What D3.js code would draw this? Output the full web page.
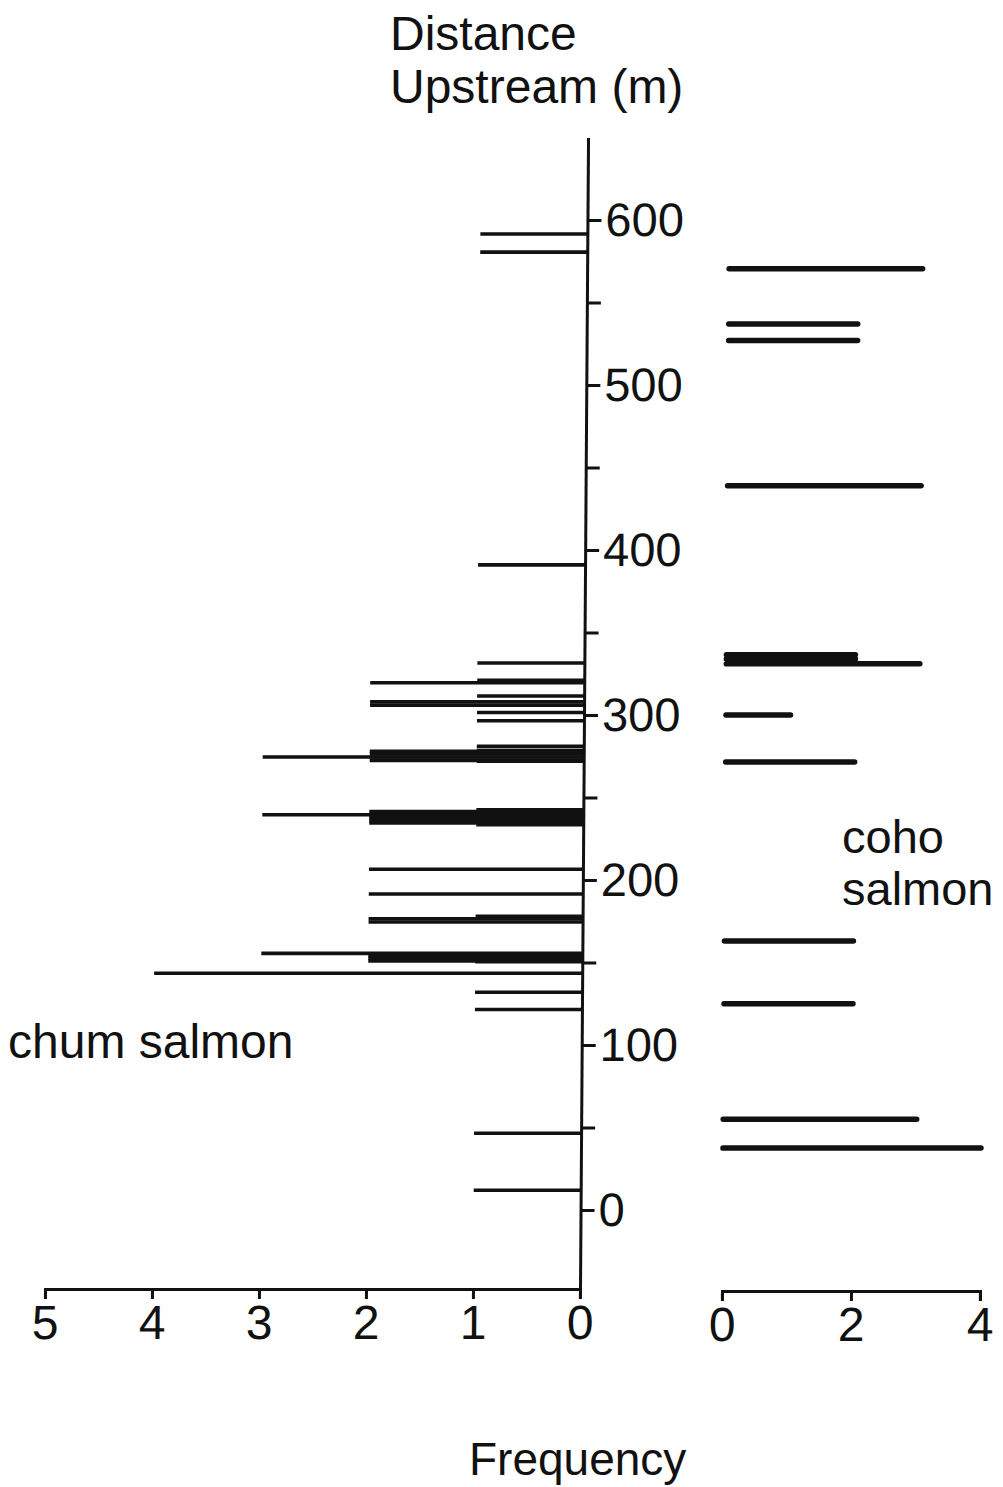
<!DOCTYPE html>
<html>
<head>
<meta charset="utf-8">
<script src="https://cdn.jsdelivr.net/npm/d3@7"></script>
<style>
	body { margin: 0; background: #fff; }
	text { font-family: "Liberation Sans", "DejaVu Sans", sans-serif; fill: #111; }
</style>
</head>
<body>
<div id="chart"></div>
<script>
'use strict';

// chum salmon: distance upstream (m) and frequency, one entry per drawn line
const chumDistance = [
	591.5, 580.5, 391, 331.5, 321, 319.5, 311.5, 308, 306, 301.5, 296.5, 281,
	278.5, 278, 276.5, 274.5, 274.5, 272.5, 272,
	242.5, 241.5, 239.5, 239, 237.5, 236, 234.5, 233.5,
	206.5, 191.5, 178, 176.5, 174.5,
	155.5, 154, 152.5, 151, 150.5,
	143.5, 132, 121.5, 46.5, 12];
const chumFreq = [
	1, 1, 1, 1, 1, 2, 1, 2, 2, 1, 1, 1,
	1, 2, 2, 3, 2, 2, 1,
	1, 2, 3, 2, 2, 2, 2, 1,
	2, 2, 1, 2, 2,
	3, 2, 2, 2, 1,
	4, 1, 1, 1, 1];

// coho salmon
const cohoDistance = [570.5, 537, 527, 439, 336.5, 334, 331, 300, 271.5, 163, 125, 55, 37.5];
const cohoFreq = [3, 2, 2, 3, 2, 2, 3, 1, 2, 2, 2, 3, 4];

const distTicks = [0, 50, 100, 150, 200, 250, 300, 350, 400, 450, 500, 550, 600];
const chumTicks = [0, 1, 2, 3, 4, 5];
const cohoTicks = [0, 2, 4];

const width = 1003, height = 1487;

const svg = d3.select("#chart")
	.append("svg")
		.attr("width", width)
		.attr("height", height)
	;

// the scan leans a little, so the plot group gets a small skew
const plot = svg.append("g")
	.attr("transform", "skewX(-0.4)")
	;

const y = d3.scaleLinear()
	.domain([-48.5, 650])
	.range([1290, 137.5])
	;

const xChum = d3.scaleLinear()
	.domain([0, 5])
	.range([589, 54])
	;

const xCoho = d3.scaleLinear()
	.domain([0, 4])
	.range([731, 989])
	;

// chum bars, drawn leftward from the axis
plot.append("g")
	.selectAll("line")
	.data(d3.range(chumDistance.length))
	.join("line")
		.attr("x1", xChum(0))
		.attr("x2", i => xChum(chumFreq[i]))
		.attr("y1", i => y(chumDistance[i]))
		.attr("y2", i => y(chumDistance[i]))
		.attr("stroke", "#111")
		.attr("stroke-width", 3.6)
	;

// coho bars, drawn rightward from their own zero
plot.append("g")
	.selectAll("line")
	.data(d3.range(cohoDistance.length))
	.join("line")
		.attr("x1", xCoho(0))
		.attr("x2", i => xCoho(cohoFreq[i]))
		.attr("y1", i => y(cohoDistance[i]))
		.attr("y2", i => y(cohoDistance[i]))
		.attr("stroke", "#111")
		.attr("stroke-width", 5.5)
		.attr("stroke-linecap", "round")
	;

// distance axis
const yAxis = plot.append("g")
	.attr("transform", `translate(${xChum(0)},0)`)
	.call(d3.axisRight(y)
		.tickValues(distTicks)
		.tickSize(14)
		.tickSizeOuter(0)
		.tickPadding(4)
		.tickFormat(d => d % 100 === 0 ? d : ""))
	;

// frequency axes
const chumAxis = plot.append("g")
	.attr("transform", "translate(0,1289)")
	.call(d3.axisBottom(xChum)
		.tickValues(chumTicks)
		.tickSize(10)
		.tickPadding(6)
		.tickFormat(d3.format("d")))
	;

const cohoAxis = plot.append("g")
	.attr("transform", "translate(0,1291)")
	.call(d3.axisBottom(xCoho)
		.tickValues(cohoTicks)
		.tickSize(10)
		.tickPadding(6)
		.tickFormat(d3.format("d")))
	;

[yAxis, chumAxis, cohoAxis].forEach(a => {
	a.selectAll("path, line")
		.attr("stroke", "#111")
		.attr("stroke-width", 3)
		;
	a.selectAll("text")
		.attr("font-size", 47)
		.attr("fill", "#111")
		;
});

chumAxis.selectAll("text")
	.attr("font-size", 48)
	;
cohoAxis.selectAll("text")
	.attr("font-size", 48)
	;

// labels
const label = (x, yy, s, size) => svg.append("text")
	.attr("x", x)
	.attr("y", yy)
	.attr("font-size", size)
	.text(s)
	;

label(390, 50, "Distance", 48);
label(390, 103, "Upstream (m)", 48);
label(8, 1058, "chum salmon", 48);
label(842, 853, "coho", 47);
label(842, 905, "salmon", 47);
label(469, 1475, "Frequency", 46);
</script>
</body>
</html>
